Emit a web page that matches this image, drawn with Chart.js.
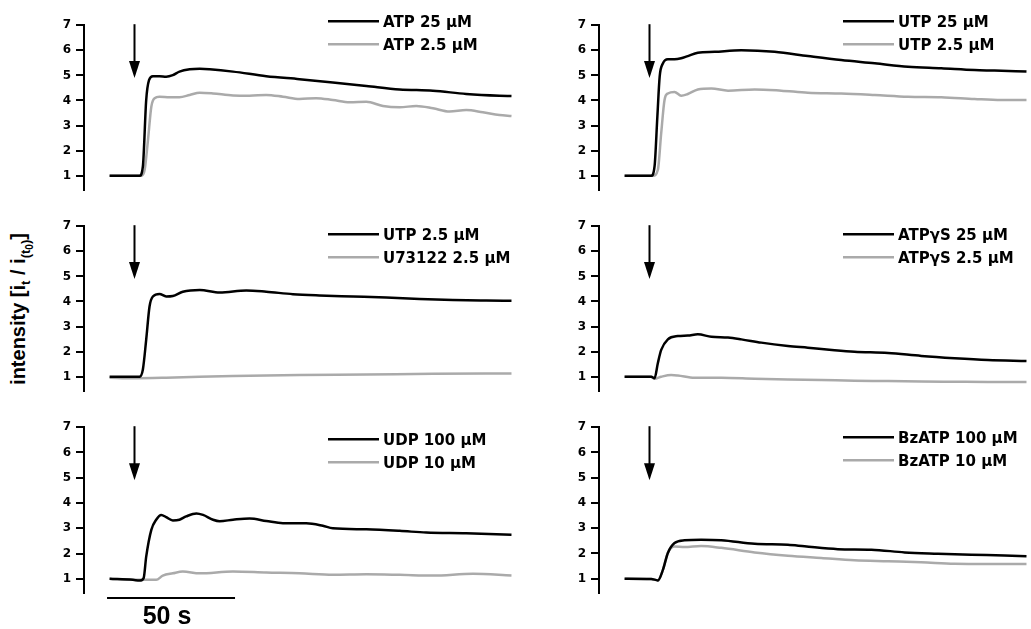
<!DOCTYPE html>
<html>
<head>
<meta charset="utf-8">
<script src="https://cdn.jsdelivr.net/npm/chart.js@4.4.1/dist/chart.umd.min.js"></script>
<style>
  html, body { margin: 0; padding: 0; background: #fff; }
  body { width: 1031px; height: 629px; position: relative; overflow: hidden; }
  canvas { position: absolute; }
  #ytitle {
    position: absolute; left: 21px; top: 309px;
    transform: translate(-50%, -50%) rotate(-90deg);
    font: bold 20px "Liberation Sans", Arial, sans-serif;
    white-space: nowrap; line-height: 1; color: #000;
  }
  #ytitle sub { font-size: 13px; vertical-align: -5px; }
  #ytitle sub sub { font-size: 10px; vertical-align: -3px; }
</style>
</head>
<body>
<div id="ytitle">intensity [i<sub>t</sub> / i<sub>(t<sub>0</sub>)</sub>]</div>
<canvas id="c0" width="518" height="189" style="left:0;top:13px"></canvas>
<canvas id="c1" width="516" height="189" style="left:515px;top:13px"></canvas>
<canvas id="c2" width="518" height="189" style="left:0;top:214px"></canvas>
<canvas id="c3" width="516" height="189" style="left:515px;top:214px"></canvas>
<canvas id="c4" width="518" height="214" style="left:0;top:415px"></canvas>
<canvas id="c5" width="516" height="190" style="left:515px;top:415px"></canvas>
<script>
// ---- axes ----
const TIME_MIN = -10, TIME_MAX = 157.2;      // seconds
const Y_MIN = 0.44, Y_MAX = 7;
const Y_TICKS = [1, 2, 3, 4, 5, 6, 7];
const STIMULUS_TIME = 9.6;                   // agonist application (arrow)
const ARROW_TIP = 4.9;
const SCALE_BAR = [-1, 49];                  // 50 s time bar
const SCALE_BAR_LABEL = '50 s';

// ---- traces: [time (s), i_t / i_t0] ----
const ATP_25 = [[0,1.0],[11.7,1.0],[13.0,1.37],[14.3,4.02],[15.4,4.81],[16.9,4.97],[19.5,4.97],[22.1,4.95],[24.7,5.01],[27.3,5.15],[31.3,5.24],[35.2,5.26],[39.1,5.24],[48.2,5.15],[61.2,4.97],[74.2,4.85],[87.2,4.72],[100.3,4.58],[113.3,4.44],[126.3,4.39],[139.3,4.26],[152.3,4.19],[157,4.18]];
const ATP_2_5 = [[0,1.0],[12.4,1.0],[13.7,1.24],[15.0,2.43],[16.3,3.75],[17.6,4.09],[19.5,4.15],[23.4,4.13],[27.3,4.13],[31.3,4.22],[35.2,4.31],[40.4,4.28],[48.2,4.2],[54.7,4.19],[61.2,4.22],[67.7,4.15],[74.2,4.06],[80.7,4.09],[87.2,4.02],[93.8,3.93],[100.3,3.95],[106.8,3.78],[113.3,3.73],[119.8,3.78],[126.3,3.69],[132.8,3.56],[139.3,3.62],[145.8,3.53],[152.3,3.42],[157,3.38]];

const UTP_25 = [[0,1.0],[10.4,1.0],[11.7,1.37],[12.8,3.36],[13.7,4.95],[15.0,5.48],[16.9,5.64],[19.5,5.64],[22.1,5.68],[24.7,5.77],[28.6,5.9],[35.2,5.94],[45.6,6.0],[58.6,5.94],[71.6,5.77],[84.6,5.61],[97.7,5.48],[110.7,5.34],[123.7,5.28],[136.7,5.21],[144.5,5.19],[157,5.15]];
const UTP_2_5 = [[0,1.0],[11.1,1.0],[13.0,1.24],[14.3,2.7],[15.6,4.02],[16.9,4.28],[19.5,4.34],[22.1,4.19],[24.7,4.26],[28.6,4.44],[33.9,4.48],[40.4,4.39],[50.8,4.44],[61.2,4.39],[71.6,4.31],[84.6,4.28],[97.7,4.22],[110.7,4.15],[123.7,4.13],[136.7,4.06],[147.1,4.02],[157,4.02]];

const UTP_2_5_CTRL = [[0,1.0],[11.7,1.0],[13.0,1.29],[14.3,2.48],[15.6,3.8],[16.9,4.2],[19.5,4.3],[22.1,4.2],[24.7,4.22],[28.6,4.39],[35.2,4.46],[43.0,4.36],[53.4,4.44],[61.2,4.39],[71.6,4.29],[81.9,4.24],[95.1,4.2],[108.1,4.16],[121.1,4.1],[134.1,4.06],[147.1,4.04],[157,4.03]];
const U73122_2_5 = [[0,0.96],[9.1,0.94],[22.1,0.96],[48.2,1.03],[74.2,1.07],[100.3,1.09],[126.3,1.12],[157,1.13]];

const ATPGS_25 = [[0,1.0],[10.4,1.0],[11.7,0.94],[13.0,1.55],[14.3,2.07],[16.9,2.49],[20.8,2.62],[24.7,2.64],[28.6,2.69],[33.9,2.59],[40.4,2.56],[45.6,2.49],[53.4,2.36],[63.8,2.23],[71.6,2.16],[82.0,2.06],[89.8,2.0],[102.9,1.95],[115.9,1.83],[128.9,1.74],[141.9,1.67],[157,1.63]];
const ATPGS_2_5 = [[0,1.0],[10.4,1.0],[11.7,0.92],[14.3,1.0],[18.2,1.07],[20.8,1.05],[27.3,0.96],[37.8,0.96],[50.8,0.92],[63.8,0.89],[76.8,0.87],[89.8,0.84],[102.9,0.83],[115.9,0.81],[128.9,0.80],[141.9,0.79],[157,0.79]];

const UDP_100 = [[0,1.0],[9.1,0.96],[11.7,0.93],[13.3,1.03],[14.3,1.88],[16.3,2.94],[18.2,3.34],[20.2,3.53],[22.1,3.44],[24.7,3.31],[27.3,3.34],[29.9,3.47],[33.9,3.59],[36.5,3.53],[40.4,3.34],[43.0,3.28],[48.2,3.34],[54.7,3.39],[61.2,3.29],[67.7,3.2],[76.8,3.2],[83.3,3.1],[87.2,3.0],[100.3,2.96],[113.3,2.9],[123.7,2.83],[139.3,2.8],[157,2.74]];
const UDP_10 = [[0,1.0],[9.1,0.96],[18.2,0.96],[20.8,1.13],[24.7,1.22],[28.6,1.29],[35.2,1.22],[48.2,1.29],[61.2,1.25],[74.2,1.22],[87.2,1.16],[100.3,1.18],[113.3,1.16],[126.3,1.13],[141.9,1.2],[157,1.13]];

const BZATP_100 = [[0,1.0],[10.4,0.99],[13.0,0.93],[15.0,1.36],[16.9,2.02],[19.5,2.41],[23.4,2.52],[29.9,2.54],[37.8,2.52],[50.8,2.38],[63.8,2.34],[70.3,2.28],[83.3,2.17],[96.4,2.15],[109.4,2.04],[122.4,1.99],[135.4,1.95],[148.4,1.92],[157,1.89]];
const BZATP_10 = [[0,1.0],[10.4,0.99],[13.0,0.93],[15.0,1.36],[16.9,2.02],[19.5,2.27],[23.4,2.25],[29.9,2.29],[37.8,2.22],[50.8,2.04],[63.8,1.91],[76.8,1.82],[89.8,1.73],[102.9,1.69],[115.9,1.65],[128.9,1.59],[141.9,1.58],[157,1.58]];

// ---- legend labels (high / low concentration) ----
const LABELS_ATP   = ['ATP 25 µM', 'ATP 2.5 µM'];
const LABELS_UTP   = ['UTP 25 µM', 'UTP 2.5 µM'];
const LABELS_U7    = ['UTP 2.5 µM', 'U73122 2.5 µM'];
const LABELS_ATPGS = ['ATPγS 25 µM', 'ATPγS 2.5 µM'];
const LABELS_UDP   = ['UDP 100 µM', 'UDP 10 µM'];
const LABELS_BZATP = ['BzATP 100 µM', 'BzATP 10 µM'];

const COLOR_HIGH = '#000000';
const COLOR_LOW = '#aaaaaa';

// arrow, legend and time bar drawn on each panel
const panelDecor = {
  id: 'panelDecor',
  afterDatasetsDraw(chart, args, opts) {
    const { ctx, chartArea, scales } = chart;
    const x = scales.x, y = scales.y;
    ctx.save();

    // stimulus arrow
    const ax = Math.round(x.getPixelForValue(STIMULUS_TIME)) + 0.5;
    const aTop = y.getPixelForValue(Y_MAX) - 1;
    const aTip = y.getPixelForValue(ARROW_TIP);
    ctx.strokeStyle = '#000';
    ctx.fillStyle = '#000';
    ctx.lineWidth = 2;
    ctx.beginPath();
    ctx.moveTo(ax, aTop);
    ctx.lineTo(ax, aTip - 12);
    ctx.stroke();
    ctx.beginPath();
    ctx.moveTo(ax - 5.5, aTip - 17);
    ctx.lineTo(ax + 5.5, aTip - 17);
    ctx.lineTo(ax, aTip);
    ctx.closePath();
    ctx.fill();

    // legend
    const lx0 = chartArea.left + 244, lx1 = chartArea.left + 295, tx = chartArea.left + 299;
    ctx.font = 'bold 15px "DejaVu Sans"';
    ctx.textBaseline = 'alphabetic';
    ctx.textAlign = 'left';
    chart.data.datasets.forEach((ds, i) => {
      const ry = chartArea.top + opts.legendRows[i];
      ctx.strokeStyle = ds.borderColor;
      ctx.lineWidth = 2.6;
      ctx.beginPath();
      ctx.moveTo(lx0, ry);
      ctx.lineTo(lx1, ry);
      ctx.stroke();
      ctx.fillStyle = '#000';
      ctx.fillText(ds.label, tx, ry + 5.5);
    });

    // time scale bar
    if (opts.scaleBar) {
      const bx0 = x.getPixelForValue(SCALE_BAR[0]);
      const bx1 = x.getPixelForValue(SCALE_BAR[1]);
      const by = chartArea.bottom + 5;
      ctx.strokeStyle = '#000';
      ctx.lineWidth = 2;
      ctx.beginPath();
      ctx.moveTo(bx0, by);
      ctx.lineTo(bx1, by);
      ctx.stroke();
      ctx.font = 'bold 25px "Liberation Sans"';
      ctx.textAlign = 'center';
      ctx.fillStyle = '#000';
      ctx.fillText(SCALE_BAR_LABEL, (bx0 + bx1) / 2 - 4, by + 26);
    }
    ctx.restore();
  }
};

const toXY = arr => arr.map(p => ({ x: p[0], y: p[1] }));

function makePanel(id, high, low, labels, legendRows, padRight, padBottom, scaleBar) {
  const series = (data, label, color) => ({
    label, data: toXY(data), borderColor: color, borderWidth: 2.5,
    pointRadius: 0, fill: false, cubicInterpolationMode: 'monotone'
  });
  return new Chart(document.getElementById(id), {
    type: 'line',
    data: { datasets: [series(high, labels[0], COLOR_HIGH), series(low, labels[1], COLOR_LOW)] },
    options: {
      responsive: false, animation: false, devicePixelRatio: 1,
      layout: { padding: { top: 12, bottom: padBottom, left: 0, right: padRight } },
      plugins: {
        legend: { display: false }, tooltip: { enabled: false },
        panelDecor: { legendRows, scaleBar }
      },
      scales: {
        x: { type: 'linear', min: TIME_MIN, max: TIME_MAX, display: false },
        y: {
          type: 'linear', min: Y_MIN, max: Y_MAX,
          afterBuildTicks: s => { s.ticks = Y_TICKS.map(v => ({ value: v })); },
          afterFit: s => { s.width = 84; },
          border: { display: true, color: '#000', width: 2 },
          grid: { drawOnChartArea: false, drawTicks: true, tickLength: 8, color: '#000', lineWidth: 2 },
          ticks: { color: '#000', padding: 5, font: { family: 'DejaVu Sans', weight: 'bold', size: 12 } }
        }
      }
    },
    plugins: [panelDecor]
  });
}

makePanel('c0', ATP_25, ATP_2_5, LABELS_ATP, [-4, 19], 6, 12, false);
makePanel('c1', UTP_25, UTP_2_5, LABELS_UTP, [-4, 19], 4, 12, false);
makePanel('c2', UTP_2_5_CTRL, U73122_2_5, LABELS_U7, [8, 31], 6, 12, false);
makePanel('c3', ATPGS_25, ATPGS_2_5, LABELS_ATPGS, [8, 31], 4, 12, false);
makePanel('c4', UDP_100, UDP_10, LABELS_UDP, [12, 35], 6, 36, true);
makePanel('c5', BZATP_100, BZATP_10, LABELS_BZATP, [10, 33], 4, 12, false);
</script>
</body>
</html>
